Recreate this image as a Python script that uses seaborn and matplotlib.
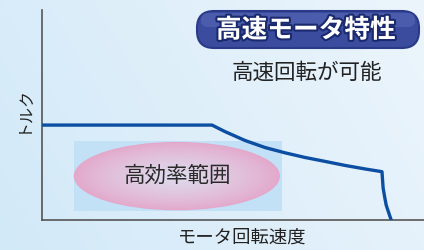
import numpy as np
import pandas as pd
import matplotlib
matplotlib.use("Agg")
import matplotlib.pyplot as plt
import matplotlib.patheffects as pe
from matplotlib.patches import Ellipse, Rectangle, FancyBboxPatch
from matplotlib.colors import to_rgb
import seaborn as sns

# ---- data ----
speed = [0.0, 44.5, 47.9, 53.1, 58.4, 63.6, 68.8, 74.1, 79.3, 84.6, 89.0, 89.3, 89.7, 90.1, 91.4]
torque = [45.2, 45.2, 42.1, 37.9, 34.5, 32.0, 29.8, 27.9, 26.0, 24.3, 23.0, 15.2, 11.0, 7.1, 0.0]

title_text = "高速モータ特性"
note_text = "高速回転が可能"
region_text = "高効率範囲"
x_label = "モータ回転速度"
y_label = "トルク"

df = pd.DataFrame({"speed": speed, "torque": torque})

sns.set_theme(style="white")
plt.rcParams["font.family"] = ["Noto Sans CJK JP", "DejaVu Sans"]

W, H = 424, 250
fig = plt.figure(figsize=(W / 100, H / 100), dpi=100)

# background gradient
bg = fig.add_axes([0, 0, 1, 1], zorder=0)
bg.set_axis_off()
xs = np.linspace(0, 1, 200)
ys = np.linspace(0, 1, 120)
X, Y = np.meshgrid(xs, ys)
c_left = np.array(to_rgb("#d2e9f8"))
c_right = np.array(to_rgb("#ecf5fc"))
t = np.clip(0.75 * X + 0.25 * (1 - Y), 0, 1)[..., None]
img = c_left * (1 - t) + c_right * t
bg.imshow(img, extent=[0, 1, 0, 1], aspect="auto", origin="upper")
bg.set_xlim(0, 1)
bg.set_ylim(0, 1)

# main axes
ax_left, ax_right, ax_top, ax_bot = 42, 424, 10, 220
ax = fig.add_axes([ax_left / W, (H - ax_bot) / H, (ax_right - ax_left) / W, (ax_bot - ax_top) / H], zorder=1)
ax.patch.set_alpha(0)
ax.set_xlim(0, 100)
ax.set_ylim(0, 100)

# high-efficiency region: rectangle + gradient ellipse
ax.add_patch(Rectangle((8.4, 4.3), 54.4, 33.3, facecolor="#c2e1f6", edgecolor="none", zorder=1))
e_cx, e_cy, e_w, e_h = 35.3, 20.9, 54.0, 32.6
c_out = np.array(to_rgb("#e3a8cb"))
c_in = np.array(to_rgb("#dedcee"))
n = 30
for i in range(n):
    f = 1 - i / n
    k = (i / (n - 1)) ** 0.8
    col = c_out * (1 - k) + c_in * k
    ax.add_patch(Ellipse((e_cx, e_cy), e_w * f, e_h * f, facecolor=col, edgecolor="none", zorder=2))
ax.text(e_cx, e_cy, region_text, ha="center", va="center", fontsize=15.5, color="#2a2a2a", zorder=3)

sns.lineplot(data=df, x="speed", y="torque", ax=ax, sort=False, estimator=None,
             color="#0b4ea2", linewidth=2.4, zorder=4)
ax.lines[-1].set_solid_joinstyle("round")

ax.set_xticks([])
ax.set_yticks([])
ax.set_xlabel("")
ax.set_ylabel("")
for s in ["top", "right"]:
    ax.spines[s].set_visible(False)
for s in ["left", "bottom"]:
    ax.spines[s].set_color("#555555")
    ax.spines[s].set_linewidth(1.2)

# overlay in pixel coordinates for text and badge
ov = fig.add_axes([0, 0, 1, 1], zorder=2)
ov.set_axis_off()
ov.patch.set_alpha(0)
ov.set_xlim(0, W)
ov.set_ylim(H, 0)

badge = FancyBboxPatch((197, 11), 222, 37, boxstyle="round,pad=0,rounding_size=17",
                       facecolor="#3b4c9f", edgecolor="#2a3a88", linewidth=1.5)
ov.add_patch(badge)
ov.add_patch(FancyBboxPatch((201, 13), 214, 14, boxstyle="round,pad=0,rounding_size=7",
                            facecolor="#5a6cb8", edgecolor="none", alpha=0.5))
ov.text(306, 30, title_text, ha="center", va="center", fontsize=18.5, fontweight="bold",
        color="white", path_effects=[pe.withStroke(linewidth=3, foreground="#1b2a6e")])

ov.text(307, 73, note_text, ha="center", va="center", fontsize=15.5, color="#222222")
ov.text(242, 238, x_label, ha="center", va="center", fontsize=13.2, color="#222222")
ov.text(23, 109, y_label, ha="center", va="center", fontsize=11.5, color="#222222", rotation=90)

fig.savefig("out.png", dpi=100)
